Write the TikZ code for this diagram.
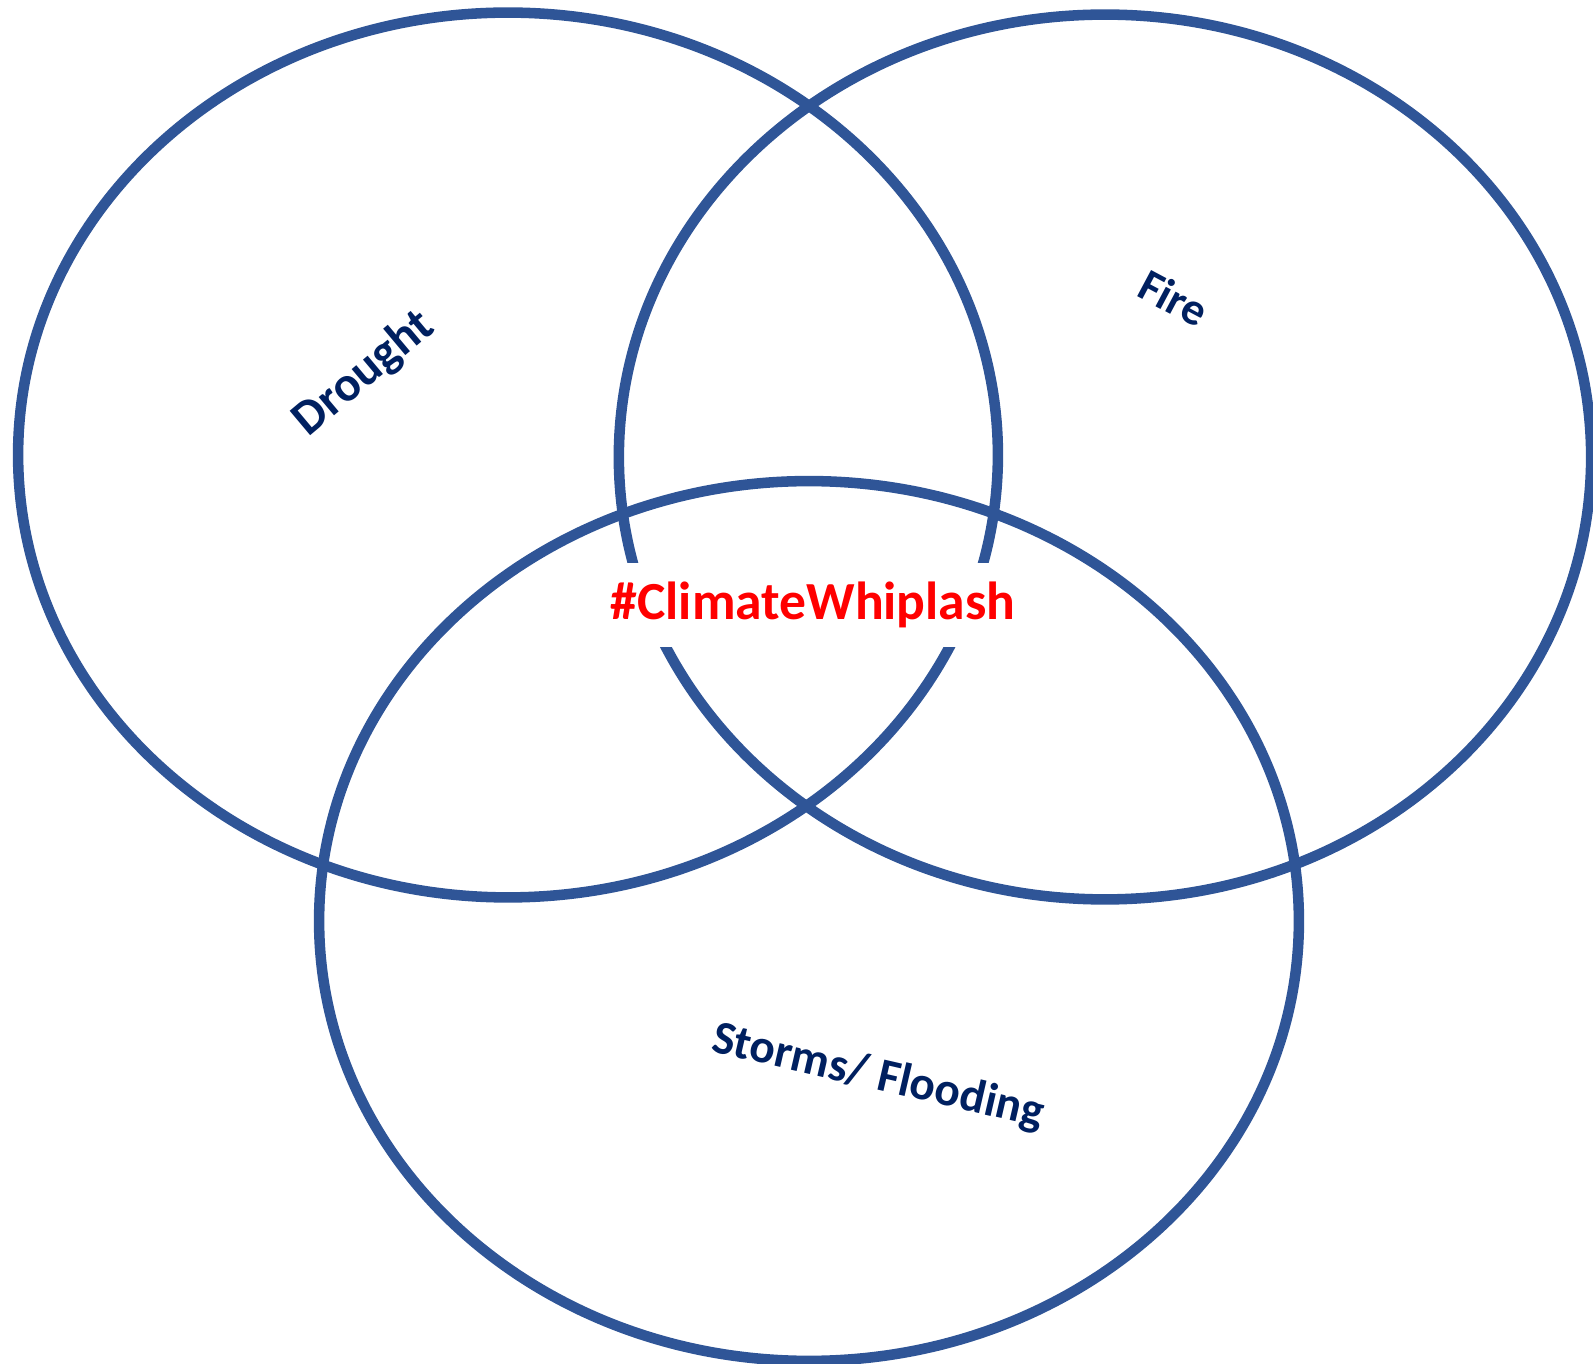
\documentclass[tikz,border=0pt]{standalone}
\usepackage{fontspec}
\setmainfont{Carlito}
\usepackage{xcolor}
\usetikzlibrary{shapes,positioning}
\definecolor{ringblue}{HTML}{2F5597}
\definecolor{labelnavy}{HTML}{002060}

\begin{document}
\begin{tikzpicture}[x=0.02cm, y=-0.02cm,
    ring/.style={ellipse, draw=ringblue, line width=6pt, minimum width=19.6cm, minimum height=17.7cm, inner sep=0pt},
    hazard/.style={font=\bfseries\fontsize{27}{32}\selectfont, text=labelnavy},
    whiplash/.style={fill=white, font=\bfseries\fontsize{30.5}{36}\selectfont, text=red, minimum height=1.68cm, inner xsep=6pt}
]
    \useasboundingbox (0,0) rectangle (1593,1364);
    \node[ring] (drought) at (508,455) {};
    \node[ring, minimum width=19.45cm] (fire) at (1105,457) {};
    \node[ring, minimum height=17.6cm] (storms) at (809,921) {};
    \node[hazard, font=\bfseries\fontsize{28}{32}\selectfont, rotate=40] (droughtlbl) at (364,374) {Drought};
    \node[hazard, font=\bfseries\fontsize{26}{30}\selectfont, rotate=-28] (firelbl) at (1174,298) {Fire};
    \node[hazard, rotate=-13] (stormslbl) at (878,1077) {Storms/ Flooding};
    \node[whiplash] (centre) at (813,605) {\#ClimateWhiplash};
\end{tikzpicture}
\end{document}
